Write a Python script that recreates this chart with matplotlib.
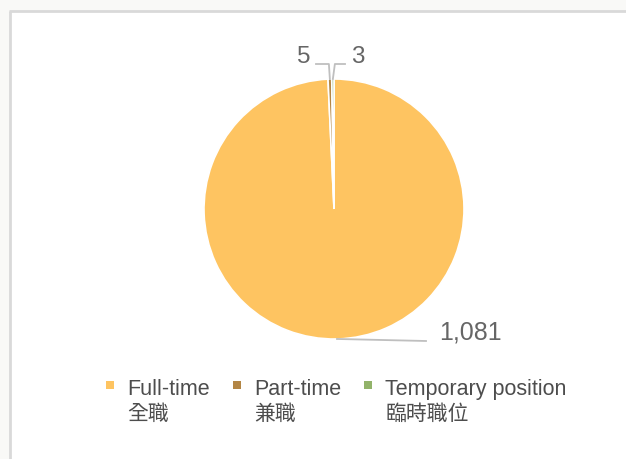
import numpy as np
import matplotlib.pyplot as plt
from matplotlib.patches import Rectangle

# data
categories_en = ['Full-time', 'Part-time', 'Temporary position']
categories_zh = ['全職', '兼職', '臨時職位']
values = [1081, 5, 3]
colors = ['#FEC461', '#B38645', '#92B36A']

W, H = 626, 460
fig = plt.figure(figsize=(W / 100, H / 100), dpi=100, facecolor='#f9f9f7')
ax = fig.add_axes([0, 0, 1, 1])


def Y(y):
    # pixel row (from top) -> data y
    return H - y


cx, cy, r = 334, 210, 130
wedges, _ = ax.pie(values, colors=colors, startangle=90, counterclock=False,
                   center=(cx, Y(cy)), radius=r, frame=True,
                   wedgeprops=dict(edgecolor='white', linewidth=1.2))
ax.set_xlim(0, W)
ax.set_ylim(0, H)
ax.set_aspect('equal')
ax.axis('off')

# chart area with light border on left/top
ax.add_patch(Rectangle((10, 0), W - 10, Y(12), facecolor='white', edgecolor='none', zorder=0))
ax.plot([10, 10], [0, Y(11.5)], color='#d9d9d9', lw=2, solid_capstyle='butt', zorder=1)
ax.plot([9, W], [Y(11.5), Y(11.5)], color='#d9d9d9', lw=2, solid_capstyle='butt', zorder=1)

lab_color = '#666666'
line_color = '#bfbfbf'
num_font = 'Liberation Sans'


def edge_point(w):
    ang = np.deg2rad((w.theta1 + w.theta2) / 2)
    return cx + r * np.cos(ang), Y(cy) + r * np.sin(ang)


# 1,081 label
px, py = edge_point(wedges[0])
ax.plot([px, 426], [py, Y(342)], color=line_color, lw=1.3, zorder=3)
ax.text(439, Y(333), f'{values[0]:,}', fontsize=18, color=lab_color,
        family=num_font, va='center', ha='left')

# 5 label (left)
px, py = edge_point(wedges[1])
ax.plot([316, px - 1, px], [Y(65), Y(65), py], color=line_color, lw=1.3, zorder=3)
ax.text(310, Y(57), f'{values[1]:,}', fontsize=17.5, color=lab_color,
        family=num_font, va='center', ha='right')

# 3 label (right)
px, py = edge_point(wedges[2])
ax.plot([345, px + 2, px], [Y(65), Y(65), py], color=line_color, lw=1.3, zorder=3)
ax.text(351, Y(57), f'{values[2]:,}', fontsize=17.5, color=lab_color,
        family=num_font, va='center', ha='left')

# legend
leg_x = [106, 233, 364]
txt_color = '#4d4d4d'
for x0, en, zh, c in zip(leg_x, categories_en, categories_zh, colors):
    ax.add_patch(Rectangle((x0, Y(389.5)), 7.5, 7.5, facecolor=c, edgecolor='none'))
    ax.text(x0 + 21, Y(395), en, fontsize=15.5, color=txt_color,
            family=['Liberation Sans', 'Noto Sans CJK TC'], va='baseline', ha='left')
    ax.text(x0 + 21, Y(420), zh, fontsize=15, color=txt_color,
            family=['Noto Sans CJK TC', 'DejaVu Sans'], va='baseline', ha='left')

fig.savefig('out.png', dpi=100, facecolor=fig.get_facecolor())
